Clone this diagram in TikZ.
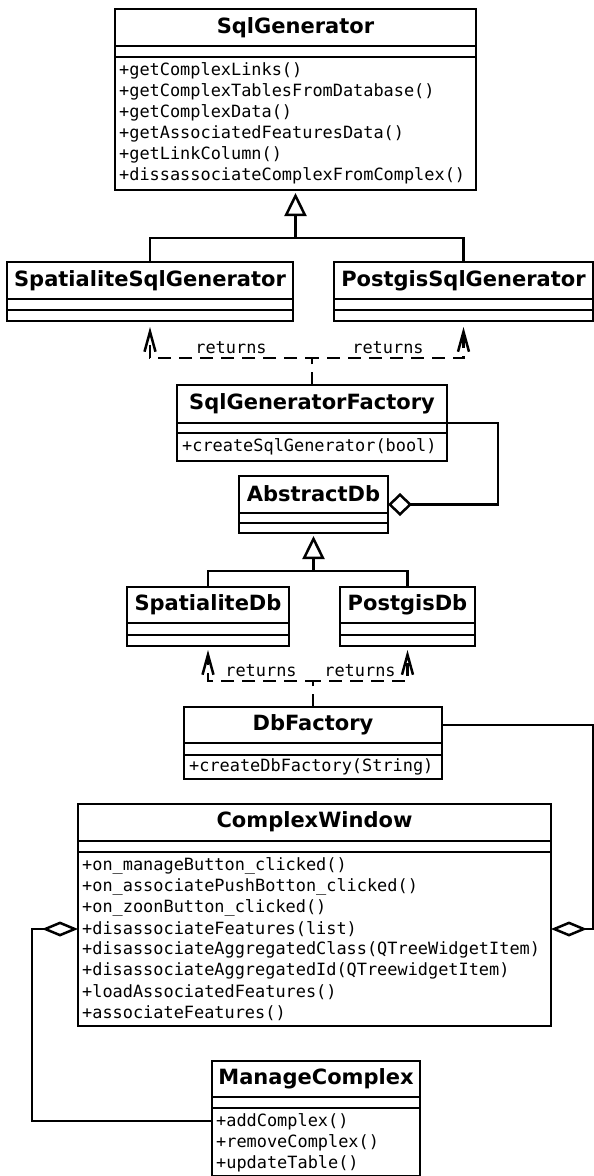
\documentclass[tikz,border=0pt]{standalone}
\usepackage{fontspec}
\setmainfont{DejaVu Sans}
\newfontfamily\monofnt{DejaVu Sans Mono}
\usetikzlibrary{arrows.meta,calc}
\newcommand\umlbox[7]{%
  \pgfmathsetmacro\myboxw{#4-#2}\pgfmathsetmacro\myboxh{#5-#3}%
  \node[classbox, minimum width=\myboxw pt, minimum height=\myboxh pt, anchor=north west] (#1) at (#2,#3) {};
  \draw[divline] (#2,#6) -- (#4,#6) (#2,#7) -- (#4,#7);
}
\begin{document}
\begin{tikzpicture}[x=1pt,y=-1pt,
  classbox/.style={draw, line width=2.8pt, inner sep=0pt, outer sep=0pt, fill=white},
  divline/.style={line width=2.5pt},
  ctitle/.style={font=\fontsize{21}{25}\selectfont\bfseries, inner sep=0pt, anchor=center},
  meth/.style={font=\monofnt\fontsize{16.9}{20}\selectfont, inner sep=0pt, anchor=west},
  conn/.style={line width=2.5pt},
  dep/.style={line width=2.5pt, dash pattern=on 13pt off 8pt, -{Straight Barb[length=20pt,width=11pt]}},
  gen/.style={line width=2.5pt, -{Triangle[open,length=23pt,width=22pt]}, shorten >=3pt},
  aggs/.style={line width=2.5pt, -{Diamond[open,length=24pt,width=23pt]}},
  aggl/.style={line width=2.5pt, -{Diamond[open,length=36pt,width=15pt]}},
]
\fill[white] (0,0) rectangle (594,1176);
\useasboundingbox (0,0) rectangle (594,1176);

% ---------- classes ----------
\umlbox{sg}{115}{9}{476}{190}{46}{57}
\node[ctitle] (sgt) at (295.5,28) {SqlGenerator};
\node[meth] (sgm1) at (119,71) {+getComplexLinks()};
\node[meth] (sgm2) at (119,92) {+getComplexTablesFromDatabase()};
\node[meth] (sgm3) at (119,113) {+getComplexData()};
\node[meth] (sgm4) at (119,134) {+getAssociatedFeaturesData()};
\node[meth] (sgm5) at (119,155) {+getLinkColumn()};
\node[meth] (sgm6) at (119,176) {+dissassociateComplexFromComplex()};

\umlbox{ssg}{7}{262}{293}{321}{299}{310}
\node[ctitle] (ssgt) at (150,281) {SpatialiteSqlGenerator};
\umlbox{psg}{334}{262}{593}{321}{299}{310}
\node[ctitle] (psgt) at (463.5,281) {PostgisSqlGenerator};

\umlbox{sgf}{177}{385}{447}{461}{423}{433}
\node[ctitle] (sgft) at (312,404) {SqlGeneratorFactory};
\node[meth] (sgfm1) at (182,447) {+createSqlGenerator(bool)};

\umlbox{adb}{239}{476}{388}{533}{513}{523}
\node[ctitle] (adbt) at (313.5,494) {AbstractDb};

\umlbox{sdb}{127}{587}{289}{646}{623}{635}
\node[ctitle] (sdbt) at (208,605) {SpatialiteDb};
\umlbox{pdb}{340}{587}{475}{646}{623}{635}
\node[ctitle] (pdbt) at (407.5,605) {PostgisDb};

\umlbox{dbf}{184}{707}{442}{779}{743}{755}
\node[ctitle] (dbft) at (313,725) {DbFactory};
\node[meth] (dbfm1) at (189,767) {+createDbFactory(String)};

\umlbox{cw}{78}{804}{551}{1026}{841}{852}
\node[ctitle] (cwt) at (314.5,822) {ComplexWindow};
\node[meth] (cwm1) at (82,866) {+on\_manageButton\_clicked()};
\node[meth] (cwm2) at (82,887) {+on\_associatePushBotton\_clicked()};
\node[meth] (cwm3) at (82,908) {+on\_zoonButton\_clicked()};
\node[meth] (cwm4) at (82,929) {+disassociateFeatures(list)};
\node[meth] (cwm5) at (82,950) {+disassociateAggregatedClass(QTreeWidgetItem)};
\node[meth] (cwm6) at (82,971) {+disassociateAggregatedId(QTreewidgetItem)};
\node[meth] (cwm7) at (82,992) {+loadAssociatedFeatures()};
\node[meth] (cwm8) at (82,1013) {+associateFeatures()};

\umlbox{mc}{212}{1061}{420}{1176}{1097}{1108}
\node[ctitle] (mct) at (316,1079) {ManageComplex};
\node[meth] (mcm1) at (216,1122) {+addComplex()};
\node[meth] (mcm2) at (216,1143) {+removeComplex()};
\node[meth] (mcm3) at (216,1164) {+updateTable()};

% ---------- connectors ----------
\coordinate (g1) at (295.5,238);
\draw[conn] (ssg.north) |- (g1) -| (psg.north);
\draw[gen] (g1) -- (sg.south);

\coordinate (j1) at (312,358);
\draw[dep] (sgf.north) -- (j1) -| ([yshift=-6pt]ssg.south);
\draw[dep] (sgf.north) -- (j1) -| ([yshift=-6pt]psg.south);
\node[meth, anchor=center] (r1) at (231,348) {returns};
\node[meth, anchor=center] (r2) at (388,348) {returns};

\coordinate (a1) at (498,423);
\draw[aggs] (sgf.east) -- (a1) |- (adb.east);

\coordinate (g2) at (313.5,571);
\draw[conn] (sdb.north) |- (g2) -| (pdb.north);
\draw[gen] (g2) -- (adb.south);

\coordinate (j2) at (313,681);
\draw[dep] (dbf.north) -- (j2) -| ([yshift=-4pt]sdb.south);
\draw[dep] (dbf.north) -- (j2) -| ([yshift=-4pt]pdb.south);
\node[meth, anchor=center] (r3) at (261,671) {returns};
\node[meth, anchor=center] (r4) at (360,671) {returns};

\coordinate (a2) at (593,725);
\draw[aggl] ($(dbf.north east)+(0,18)$) -- (a2) |- ($(cw.north east)+(0,125)$);

\coordinate (a3) at (32,1121);
\draw[aggl] ($(mc.north west)+(0,60)$) -- (a3) |- ($(cw.north west)+(0,125)$);
\end{tikzpicture}
\end{document}
